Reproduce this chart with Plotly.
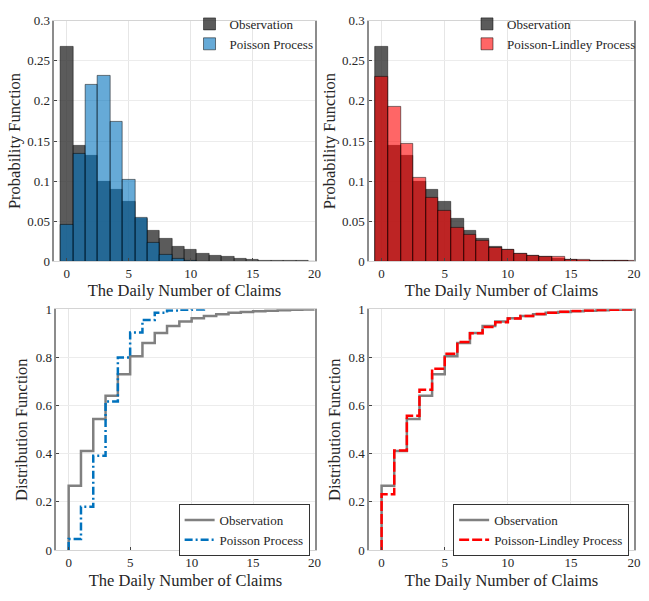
import plotly.graph_objects as go

# Daily number of claims (support of each distribution)
claims_obs = list(range(0, 21))
claims_pois = list(range(0, 12))
claims_pl = list(range(0, 21))

# Probability functions
obs_pmf = [0.267, 0.144, 0.132, 0.099, 0.089, 0.074, 0.053, 0.038, 0.029, 0.019,
           0.015, 0.010, 0.007, 0.006, 0.004, 0.002, 0.0015, 0.0012, 0.001, 0.0008, 0.0]
pois_pmf = [0.046, 0.134, 0.220, 0.232, 0.174, 0.102, 0.055, 0.024, 0.009, 0.003,
            0.001, 0.0003]
pl_pmf = [0.230, 0.193, 0.147, 0.105, 0.080, 0.063, 0.042, 0.034, 0.026, 0.017,
          0.015, 0.010, 0.007, 0.006, 0.0055, 0.0025, 0.002, 0.0015, 0.001, 0.0008, 0.0006]

# Distribution functions
obs_cdf = [0.267, 0.411, 0.544, 0.641, 0.730, 0.805, 0.860, 0.901, 0.930, 0.949,
           0.963, 0.972, 0.979, 0.985, 0.989, 0.992, 0.994, 0.996, 0.998, 0.999, 1.0]
pois_cdf = [0.046, 0.180, 0.392, 0.617, 0.800, 0.904, 0.955, 0.985, 0.995, 0.998,
            0.999, 1.0]
pl_cdf = [0.232, 0.414, 0.558, 0.666, 0.753, 0.815, 0.864, 0.900, 0.926, 0.946,
          0.962, 0.972, 0.980, 0.986, 0.990, 0.993, 0.995, 0.997, 0.998, 0.999, 1.0]

x_ticks = [0, 5, 10, 15, 20]
pmf_ticks = [0, 0.05, 0.1, 0.15, 0.2, 0.25, 0.3]
pmf_tick_text = ["0", "0.05", "0.1", "0.15", "0.2", "0.25", "0.3"]
cdf_ticks = [0, 0.2, 0.4, 0.6, 0.8, 1]
cdf_tick_text = ["0", "0.2", "0.4", "0.6", "0.8", "1"]

FONT = "Liberation Serif"
TXT = "#262626"
OBS_FILL = "rgba(50,50,50,0.8)"
BLUE = "#0072bd"
RED = "#ff0000"
GRAY_LINE = "#808080"

W, H = 649, 601
# plot-area pixel boxes: (left, right, top, bottom)
boxes = {
    "1": (55, 318, 14, 261),
    "2": (373, 641, 14, 261),
    "3": (57, 318, 310, 557),
    "4": (373, 641, 310, 557),
}

fig = go.Figure()

# --- probability functions (histogram-style bars) ---
fig.add_trace(go.Bar(x=claims_obs, y=obs_pmf, width=1, name="Observation",
                     marker=dict(color=OBS_FILL, line=dict(color="black", width=0.5)),
                     xaxis="x", yaxis="y", legend="legend"))
fig.add_trace(go.Bar(x=claims_pois, y=pois_pmf, width=1, name="Poisson Process",
                     marker=dict(color="rgba(0,114,189,0.6)", line=dict(color="black", width=0.5)),
                     xaxis="x", yaxis="y", legend="legend"))
fig.add_trace(go.Bar(x=claims_obs, y=obs_pmf, width=1, name="Observation",
                     marker=dict(color=OBS_FILL, line=dict(color="black", width=0.5)),
                     xaxis="x2", yaxis="y2", legend="legend2"))
fig.add_trace(go.Bar(x=claims_pl, y=pl_pmf, width=1, name="Poisson-Lindley Process",
                     marker=dict(color="rgba(255,0,0,0.6)", line=dict(color="black", width=0.5)),
                     xaxis="x2", yaxis="y2", legend="legend2"))

# --- distribution functions (stairs starting from zero at x = 0) ---
def stairs(k, cdf):
    return [k[0]] + list(k), [0.0] + list(cdf)

sx, sy = stairs(claims_obs, obs_cdf)
fig.add_trace(go.Scatter(x=sx, y=sy, mode="lines", line_shape="hv", name="Observation",
                         line=dict(color=GRAY_LINE, width=2.5),
                         xaxis="x3", yaxis="y3", legend="legend3"))
sx, sy = stairs(claims_pois, pois_cdf)
fig.add_trace(go.Scatter(x=sx, y=sy, mode="lines", line_shape="hv", name="Poisson Process",
                         line=dict(color=BLUE, width=2.5, dash="8px,3px,2px,3px"),
                         xaxis="x3", yaxis="y3", legend="legend3"))
sx, sy = stairs(claims_obs, obs_cdf)
fig.add_trace(go.Scatter(x=sx, y=sy, mode="lines", line_shape="hv", name="Observation",
                         line=dict(color=GRAY_LINE, width=2.5),
                         xaxis="x4", yaxis="y4", legend="legend4"))
sx, sy = stairs(claims_pl, pl_cdf)
fig.add_trace(go.Scatter(x=sx, y=sy, mode="lines", line_shape="hv", name="Poisson-Lindley Process",
                         line=dict(color=RED, width=2.5, dash="10px,3px"),
                         xaxis="x4", yaxis="y4", legend="legend4"))


def xaxis_cfg(key, anchor, standoff):
    l, r, t, b = boxes[key]
    return dict(domain=[l / W, r / W], anchor=anchor, range=[-1, 20],
                tickvals=x_ticks, ticktext=[str(v) for v in x_ticks],
                showgrid=True, gridcolor="#e6e6e6", gridwidth=1, zeroline=False,
                showline=True, linecolor="#d4d4d4", linewidth=1, mirror=True,
                ticks="inside", ticklen=3, tickcolor="#444",
                tickfont=dict(family=FONT, size=13, color=TXT),
                title=dict(text="The Daily Number of Claims", standoff=standoff,
                           font=dict(family=FONT, size=16.5, color=TXT)))


def yaxis_cfg(key, anchor, rng, vals, text, title, standoff):
    l, r, t, b = boxes[key]
    return dict(domain=[1 - b / H, 1 - t / H], anchor=anchor, range=rng,
                tickvals=vals, ticktext=text,
                showgrid=True, gridcolor="#ececec", gridwidth=1, zeroline=False,
                showline=True, linecolor="#8c8c8c", linewidth=1.5, mirror=True,
                ticks="inside", ticklen=3, tickcolor="#444",
                tickfont=dict(family=FONT, size=13, color=TXT),
                title=dict(text=title, standoff=standoff,
                           font=dict(family=FONT, size=16.5, color=TXT)))


def legend_cfg(x_px, y_px, border, bottom=False):
    cfg = dict(x=x_px / W, xanchor="right",
               font=dict(family=FONT, size=13, color=TXT),
               bgcolor="white" if border else "rgba(255,255,255,0)",
               bordercolor="#333" if border else "rgba(0,0,0,0)",
               borderwidth=1 if border else 0,
               tracegroupgap=0, itemwidth=30)
    cfg.update(y=1 - y_px / H, yanchor="bottom" if bottom else "top")
    return cfg


fig.update_layout(
    width=W, height=H,
    margin=dict(l=0, r=0, t=0, b=0),
    paper_bgcolor="white", plot_bgcolor="white",
    barmode="overlay", bargap=0,
    font=dict(family=FONT, color=TXT),
    xaxis=xaxis_cfg("1", "y", 1),
    yaxis=yaxis_cfg("1", "x", [0, 0.3], pmf_ticks, pmf_tick_text, "Probability Function", 3),
    xaxis2=xaxis_cfg("2", "y2", 1),
    yaxis2=yaxis_cfg("2", "x2", [0, 0.3], pmf_ticks, pmf_tick_text, "Probability Function", 2),
    xaxis3=xaxis_cfg("3", "y3", 5),
    yaxis3=yaxis_cfg("3", "x3", [0, 1], cdf_ticks, cdf_tick_text, "Distribution Function", 4),
    xaxis4=xaxis_cfg("4", "y4", 5),
    yaxis4=yaxis_cfg("4", "x4", [0, 1], cdf_ticks, cdf_tick_text, "Distribution Function", 4),
    legend=legend_cfg(322, 2, False),
    legend2=legend_cfg(648, 2, False),
    legend3=legend_cfg(313, 563, True, bottom=True),
    legend4=legend_cfg(636, 563, True, bottom=True),
)

fig.write_html("out.html")
